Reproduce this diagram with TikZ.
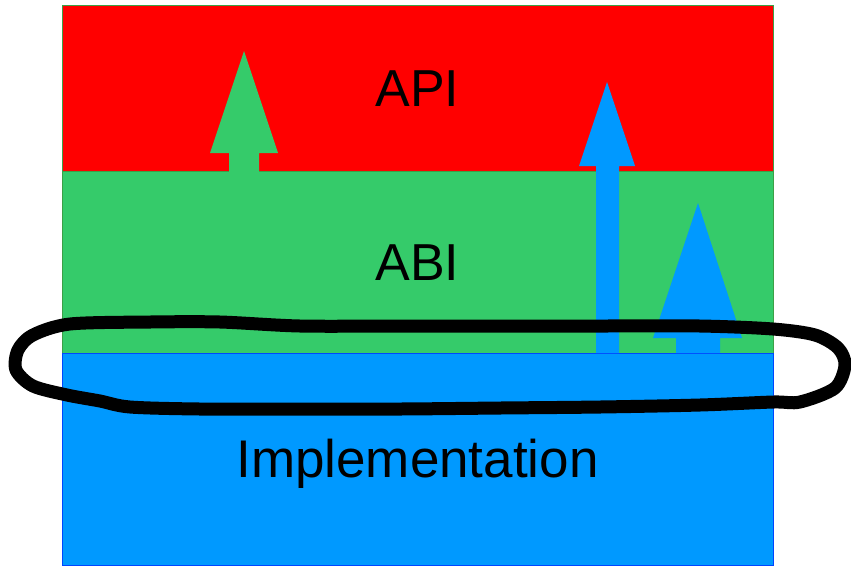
\documentclass[tikz,border=0pt]{standalone}
\usepackage{fontspec}
\setmainfont{Liberation Sans}
\definecolor{apired}{RGB}{255,0,0}
\definecolor{abigreen}{RGB}{53,203,106}
\definecolor{implblue}{RGB}{0,153,255}
\definecolor{greenedge}{RGB}{60,160,70}
\definecolor{blueedge}{RGB}{0,70,255}

\tikzset{
    layer/.style={rectangle, line width=1pt, minimum width=711pt, inner sep=0pt,
        font=\fontsize{52}{52}\selectfont, text height=37pt, text depth=0pt},
    uparrow/.style={line width=0pt}
}

\begin{document}
\begin{tikzpicture}[x=1pt, y=-1pt]
        \useasboundingbox (0,0) rectangle (851,566);

        % Define the three layers
        \node[layer, fill=apired, draw=greenedge, minimum height=166pt] (api) at (417.5,88) {API};
        \node[layer, fill=abigreen, draw=greenedge, minimum height=182pt] (abi) at (417.5,262) {ABI};
        \node[layer, fill=implblue, draw=blueedge, minimum height=212pt, font=\fontsize{53}{53}\selectfont] (impl) at (417.5,459) {Implementation};

        % Draw the arrows going up through the layers
        \fill[abigreen] (229,172) -- (229,153) -- (210,153) -- (244,51) -- (278,153) -- (259,153) -- (259,172) -- cycle;
        \fill[implblue] (596,353) -- (596,166) -- (579,166) -- (607,82) -- (635,166) -- (619,166) -- (619,353) -- cycle;
        \fill[implblue] (676,353) -- (676,338) -- (653,338) -- (698,203) -- (742,338) -- (720,338) -- (720,353) -- cycle;

        % Draw the loop round the ABI border
        \draw[black, line width=13pt, line cap=round, line join=round] plot[smooth cycle, tension=0.5] coordinates {
            (70,324) (150,322) (220,322) (300,326) (400,326) (500,326) (600,326) (700,326)
            (773,329) (815,335) (838,348) (845,365) (835,388) (800,402) (773,402) (700,405)
            (600,407) (500,408) (400,409) (300,409) (200,409) (130,407) (100,401) (67,395)
            (33,386) (16,370) (18,350) (33,335)};
    \end{tikzpicture}
\end{document}
